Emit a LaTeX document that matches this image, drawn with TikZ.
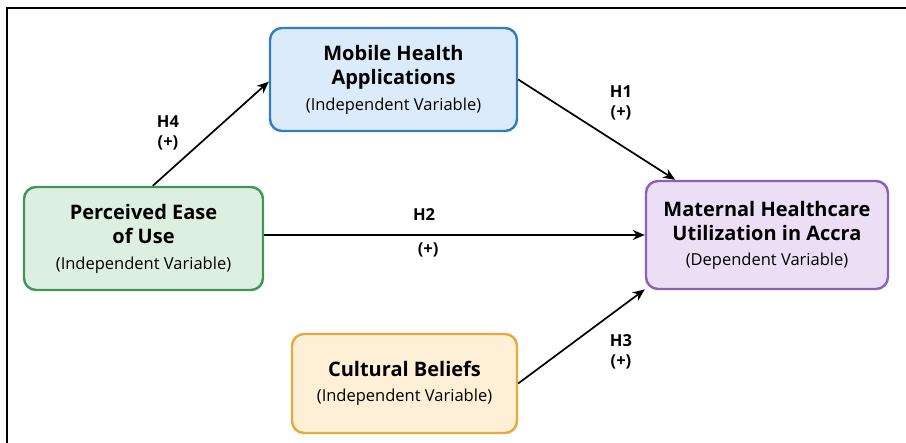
\documentclass[tikz,border=0pt]{standalone}
\usepackage{fontspec}
\setmainfont{Open Sans}
\usepackage{xcolor}
\usepackage{tikz}
\usetikzlibrary{positioning, arrows.meta, calc}
\definecolor{mobfill}{HTML}{DCEBFA}
\definecolor{mobdraw}{HTML}{2F7DC4}
\definecolor{easefill}{HTML}{DCEFE1}
\definecolor{easedraw}{HTML}{3F9656}
\definecolor{matfill}{HTML}{ECDFF5}
\definecolor{matdraw}{HTML}{8D5EBD}
\definecolor{culfill}{HTML}{FDF0D7}
\definecolor{culdraw}{HTML}{E8A93C}
\tikzstyle{varbox} = [rectangle, rounded corners=12pt, line width=2.4pt, text centered, align=center, inner sep=0pt, font=\fontsize{20}{24.5}\selectfont\bfseries]
\tikzstyle{arrow} = [line width=1.7pt, -{Stealth[length=12pt,width=10pt]}]
\tikzstyle{hyp} = [inner sep=0pt, font=\fontsize{16.5}{16.5}\selectfont\bfseries]
\newcommand{\vsub}[1]{{\mdseries\fontsize{16.5}{18}\selectfont #1}}

\begin{document}
\begin{tikzpicture}[x=1pt,y=-1pt]
			\useasboundingbox (0,0) rectangle (906,443);
			\draw [line width=1.4pt] (7,443) -- (7,8) -- (906,8);
			% variables
			\node (mobile) [varbox, fill=mobfill, draw=mobdraw, minimum width=247pt, minimum height=103pt] at (393.5,79.5) {Mobile Health\\Applications\\[1pt]\vsub{(Independent Variable)}};
			\node (ease) [varbox, fill=easefill, draw=easedraw, minimum width=239pt, minimum height=103pt] at (143.5,238.5) {Perceived Ease\\of Use\\[1pt]\vsub{(Independent Variable)}};
			\node (maternal) [varbox, fill=matfill, draw=matdraw, minimum width=242pt, minimum height=108pt] at (767,235) {Maternal Healthcare\\Utilization in Accra\\[0pt]\vsub{(Dependent Variable)}};
			\node (cultural) [varbox, fill=culfill, draw=culdraw, minimum width=225pt, minimum height=99pt] at (404.5,383.5) {Cultural Beliefs\\[0pt]\vsub{(Independent Variable)}};
			% hypotheses
			\node (h4) [hyp] at (168,122) {H4};
			\node (h4s) [hyp, below=7pt of h4] {(+)};
			\node (h1) [hyp] at (621,92) {H1};
			\node (h1s) [hyp, below=7pt of h1] {(+)};
			\node (h3) [hyp] at (621,341) {H3};
			\node (h3s) [hyp, below=7pt of h3] {(+)};
			%连接
			\draw [arrow](ease.80.6) -- (mobile.181.6);
			\draw [arrow](mobile.east) -- (maternal.149);
			\draw [arrow](ease.east |- maternal.west) -- node[hyp, pos=0.42, above=14pt] {H2} node[hyp, pos=0.42, below=7pt, xshift=4pt] {(+)} (maternal.west);
			\draw [arrow](cultural.east) -- (maternal.204);
		\end{tikzpicture}
\end{document}
